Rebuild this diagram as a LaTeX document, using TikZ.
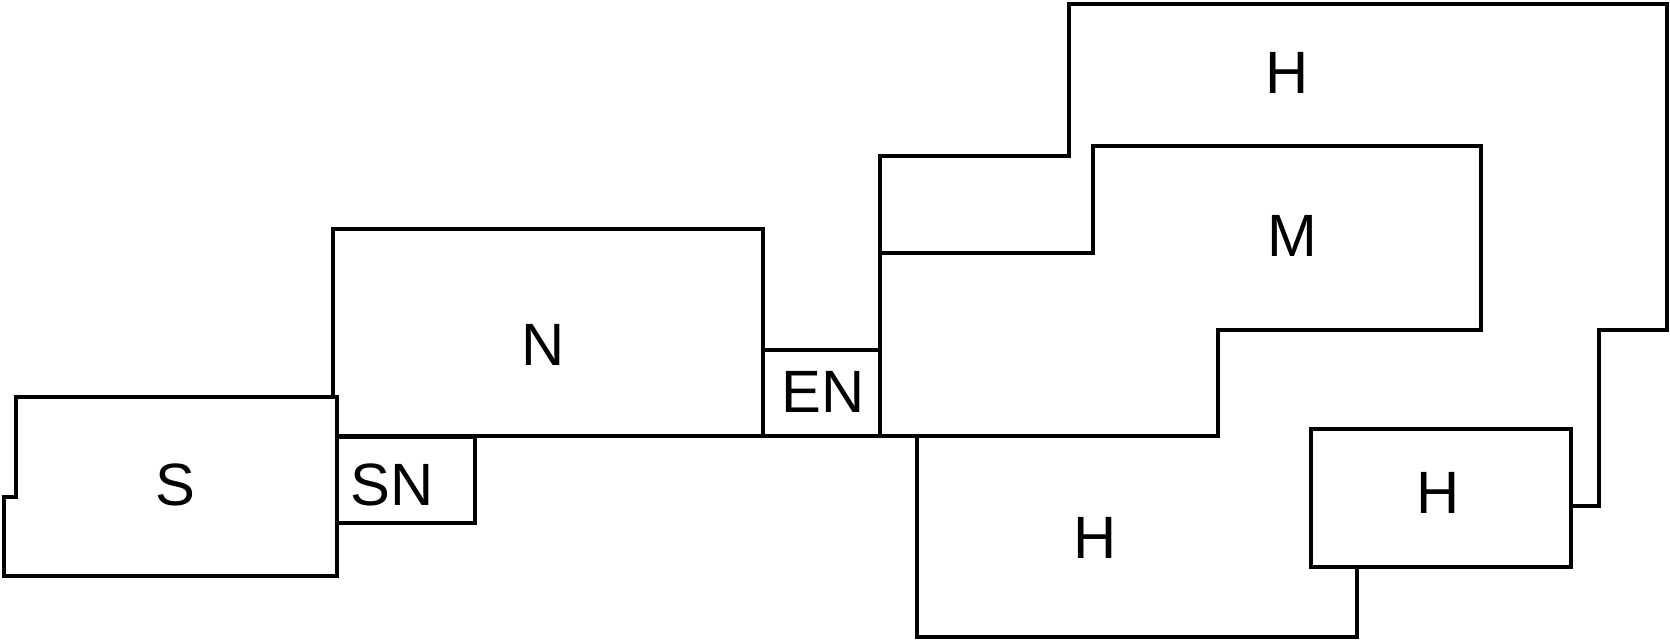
\documentclass[tikz,border=0pt]{standalone}
\usepackage{fontspec}
\setmainfont{Liberation Sans}
\begin{document}
\begin{tikzpicture}[x=0.1mm,y=-0.1mm,line width=1.35pt,line join=miter,lbl/.style={font=\fontsize{17}{20}\selectfont}]
	\useasboundingbox (0,0) rectangle (1670,640);
	% left part
	\draw (16,397) -- (337,397) -- (337,576) -- (4,576) -- (4,497) -- (16,497) -- cycle;
	\draw (333,397) -- (333,229) -- (763,229) -- (763,436);
	\draw (337,437) -- (475,437) -- (475,523) -- (337,523);
	\draw (763,350) -- (880,350);
	% right part
	\draw (880,436) -- (880,156) -- (1069,156) -- (1069,4) -- (1667,4) -- (1667,330) -- (1599,330) -- (1599,506) -- (1571,506);
	\draw (880,253) -- (1093,253) -- (1093,146) -- (1481,146) -- (1481,330) -- (1218,330) -- (1218,436) -- (337,436);
	\draw (1311,429) rectangle (1571,567);
	\draw (917,436) -- (917,637) -- (1357,637) -- (1357,567);
	%\draw[red] (0,0) rectangle (1670,640);
	\node[lbl] (s) at (175,485) {S};
	\node[lbl] (sn) at (392,485) {SN};
	\node[lbl] (n) at (543,345) {N};
	\node[lbl] (en) at (823,392) {EN};
	\node[lbl] (hTop) at (1287,73) {H};
	\node[lbl] (m) at (1292,236) {M};
	\node[lbl] (hLow) at (1095,538) {H};
	\node[lbl] (hSmall) at (1438,493) {H};
\end{tikzpicture}
\end{document}
